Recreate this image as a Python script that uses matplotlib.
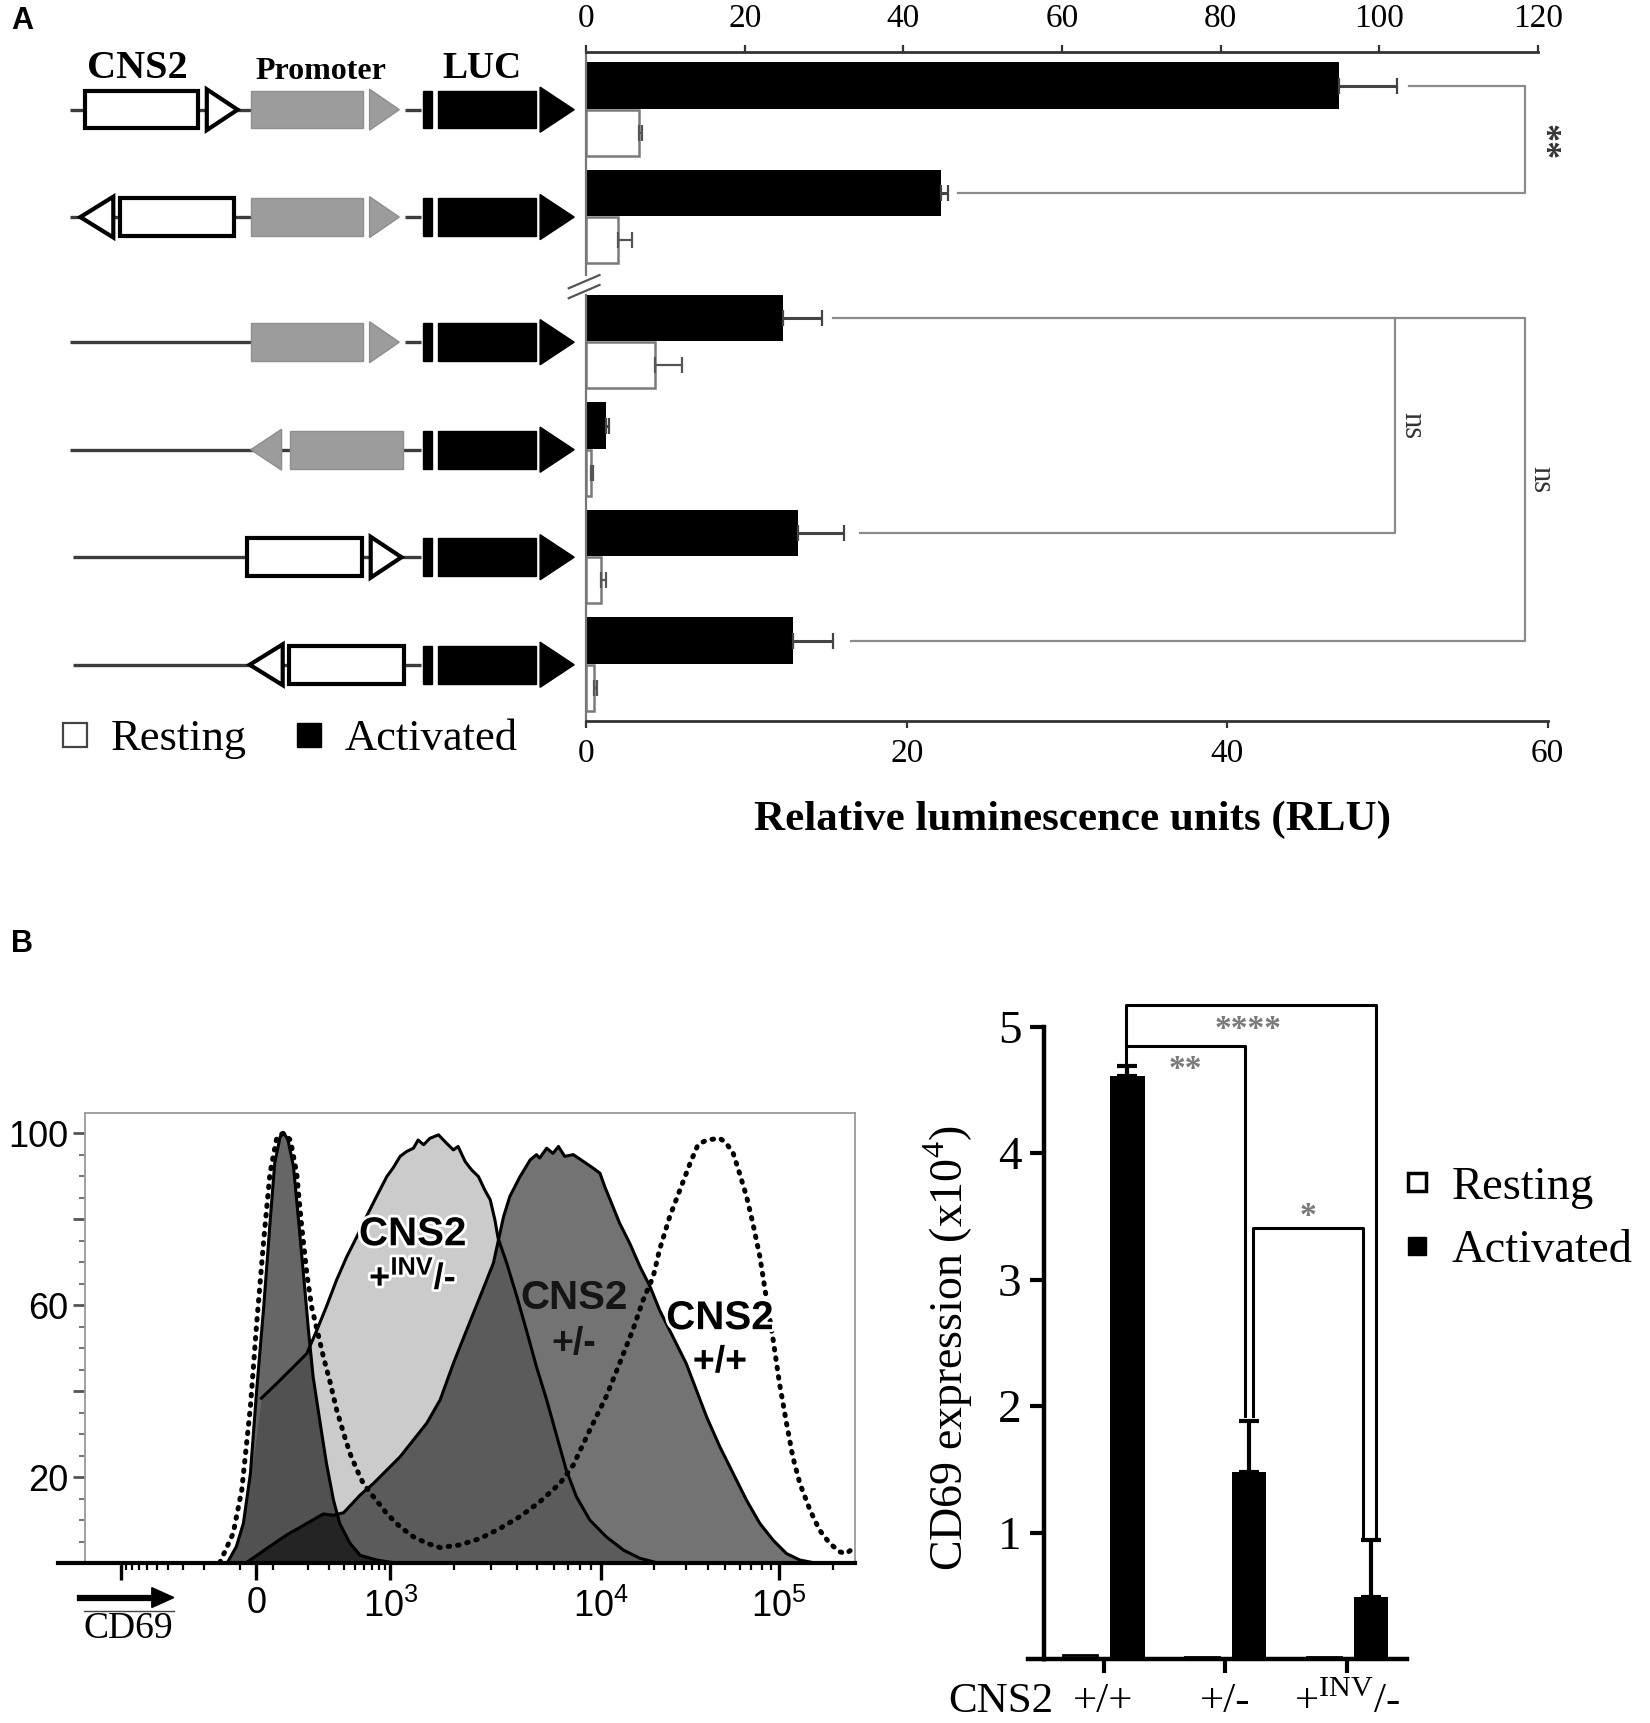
import numpy as np
import matplotlib.pyplot as plt
from matplotlib.patches import Rectangle, Polygon
from matplotlib.lines import Line2D
import matplotlib.patheffects as pe

plt.rcParams['font.family'] = ['Liberation Serif', 'DejaVu Serif']
plt.rcParams['mathtext.fontset'] = 'custom'
plt.rcParams['mathtext.rm'] = 'Liberation Serif'
plt.rcParams['mathtext.sf'] = 'Liberation Sans'
plt.rcParams['mathtext.bf'] = 'Liberation Sans:bold'

# ---------------- panel A: luciferase reporter (RLU), rows top -> bottom
top_act = [94.9, 44.7]
top_act_err = [7.4, 0.9]
top_rest = [6.6, 4.0]
top_rest_err = [0.4, 1.8]
bot_act = [12.3, 1.2, 13.2, 12.9]
bot_act_err = [2.4, 0.2, 2.9, 2.5]
bot_rest = [4.3, 0.3, 0.9, 0.5]
bot_rest_err = [1.7, 0.1, 0.3, 0.15]
top_ticks = [0, 20, 40, 60, 80, 100, 120]
bot_ticks = [0, 20, 40, 60]

# ---------------- panel B: CD69 histograms (x = display channel, y = % of max)
rest_x = [198, 210, 219, 228, 236, 245, 253, 259, 266, 271, 276, 283, 289, 296, 302, 308,
          317, 325, 334, 342, 355, 368, 389, 410]
rest_y = [0, 3.9, 9.3, 20.9, 40.3, 59.7, 79.1, 93.0, 99.2, 100, 98.4, 92.2, 80.6, 66.7, 54.3,
          43.4, 32.6, 23.3, 14.7, 9.3, 4.7, 1.9, 0.8, 0.2]
inv_x = [200, 219, 232, 242, 262, 283, 300, 313, 325, 338, 351, 364, 376, 389, 402, 410, 419,
         427, 436, 442, 449, 457, 468, 478, 487, 493, 502, 510, 519, 527, 534, 540, 544, 555,
         568, 580, 593, 606, 619, 631, 644, 661, 682, 704, 725, 746]
inv_y = [0, 9.3, 24.8, 38.4, 41.9, 45.7, 48.8, 54.3, 59.7, 65.9, 71.3, 76.0, 80.6, 85.3, 89.9,
         91.9, 94.6, 95.7, 96.5, 98.4, 97.3, 98.8, 99.6, 97.7, 96.1, 96.9, 93.4, 91.5, 89.9,
         86.8, 84.5, 79.8, 75.6, 69.8, 62.0, 54.3, 45.7, 38.0, 29.5, 21.7, 15.5, 10.1, 6.2,
         3.1, 1.2, 0.2]
het_x = [223, 249, 274, 300, 321, 334, 347, 368, 385, 402, 419, 436, 453, 470, 487, 504, 521,
         538, 551, 559, 572, 585, 593, 597, 606, 614, 621, 629, 640, 653, 665, 674, 680, 687,
         699, 712, 725, 738, 750, 767, 784, 797, 810, 827, 844, 861, 878, 895, 912, 929, 946]
het_y = [0.2, 3.5, 6.6, 9.3, 11.5, 11.2, 11.8, 15.9, 18.6, 21.7, 24.8, 28.7, 32.6, 38.0, 46.5,
         54.3, 62.0, 69.8, 80.6, 85.3, 89.9, 93.8, 95.0, 94.2, 96.5, 95.3, 96.9, 94.6, 95.0,
         93.4, 91.9, 90.7, 87.6, 84.5, 79.1, 74.4, 69.0, 64.3, 58.9, 52.7, 46.5, 40.3, 34.1,
         27.1, 20.9, 14.7, 9.3, 5.4, 2.3, 0.8, 0.2]
wt_x = [189, 206, 217, 228, 236, 245, 253, 262, 270, 279, 287, 293, 300, 306, 313, 321, 330,
        338, 347, 355, 364, 372, 385, 402, 419, 436, 453, 470, 495, 521, 546, 572, 597, 623,
        640, 661, 682, 699, 716, 729, 742, 750, 763, 776, 789, 799, 810, 827, 835, 844, 852,
        861, 869, 878, 886, 895, 903, 912, 920, 929, 942, 954, 967, 980, 988, 997]
wt_y = [0.2, 7.0, 17.1, 36.4, 55.8, 75.2, 90.7, 99.2, 100, 98.4, 90.7, 79.1, 67.4, 59.7, 54.3,
        48.1, 41.9, 35.7, 30.2, 25.6, 21.7, 18.6, 15.5, 11.6, 8.5, 6.2, 4.7, 3.7, 4.3, 5.8,
        8.1, 10.9, 14.3, 18.6, 22.9, 31.0, 38.8, 46.5, 54.3, 61.2, 66.7, 72.9, 80.6, 86.8,
        93.0, 97.3, 98.4, 98.8, 97.7, 95.3, 90.7, 85.3, 79.1, 71.3, 62.0, 51.9, 41.9, 32.6,
        24.8, 18.6, 12.4, 7.8, 4.7, 2.7, 2.3, 3.5]
hist_tick_pos = [62.6, 235.6, 406.5, 675.0, 902.5]
hist_tick_lab = ['', '$\\mathsf{0}$', '$\\mathsf{10}^{\\mathsf{3}}$',
                 '$\\mathsf{10}^{\\mathsf{4}}$', '$\\mathsf{10}^{\\mathsf{5}}$']
dec_v = [1e2, 1e3, 1e4, 1e5]
dec_p = [256.6, 406.5, 675.0, 902.5]

# ---------------- panel B: CD69 expression bars (x10^4)
genotypes = ['+/+', '+/-', '+${}^{\\mathrm{INV}}$/-']
cd69_rest = [0.03, 0.02, 0.02]
cd69_act = [4.61, 1.48, 0.49]
cd69_act_err = [0.08, 0.40, 0.45]

W, H = 1500.0, 1566.0
fig = plt.figure(figsize=(16.5, 17.23), dpi=100)


def place(x0, y0, x1, y1):
    return fig.add_axes([x0 / W, 1 - y1 / H, (x1 - x0) / W, (y1 - y0) / H])


def ftext(x, y, s, **kw):
    return fig.text(x / W, 1 - y / H, s, **kw)


# ======================= panel A bars
axT = place(533, 47, 1398, 250)
axB = place(533, 268, 1407, 655)


def rlu_bars(ax, act, act_err, rest, rest_err):
    r = np.arange(len(act))
    z = np.zeros(len(act))
    ax.barh(r - 0.225, act, 0.43, color='black', xerr=[z, act_err],
            error_kw=dict(ecolor='#444444', elinewidth=2.2, capsize=6, capthick=1.6))
    ax.barh(r + 0.215, rest, 0.43, color='white', edgecolor='#7a7a7a', lw=1.8,
            xerr=[z, rest_err],
            error_kw=dict(ecolor='#555555', elinewidth=1.6, capsize=6, capthick=1.6))


rlu_bars(axT, top_act, top_act_err, top_rest, top_rest_err)
rlu_bars(axB, bot_act, bot_act_err, bot_rest, bot_rest_err)

axT.set_xlim(0, 120)
axT.set_ylim(1.54, -0.54)
axB.set_xlim(0, 60)
axB.set_ylim(3.52, -0.44)
for ax in (axT, axB):
    ax.spines['right'].set_visible(False)
    ax.spines['left'].set_color('#777777')
    ax.spines['left'].set_linewidth(1.6)
    ax.set_yticks([])
axT.spines['bottom'].set_visible(False)
axT.spines['top'].set_linewidth(2)
axT.spines['top'].set_color('#333333')
axT.xaxis.tick_top()
axT.set_xticks(top_ticks)
axT.tick_params(axis='x', length=5, width=1.6, pad=8, labelsize=24, color='#333333')
axB.spines['top'].set_visible(False)
axB.spines['bottom'].set_linewidth(2)
axB.spines['bottom'].set_color('#333333')
axB.set_xticks(bot_ticks)
axB.tick_params(axis='x', length=5, width=1.6, pad=8, labelsize=24, color='#333333')

gray = '#8a8a8a'
# ** bracket (rows 1-2, top scale)
axT.plot([103.7, 118.4, 118.4, 46.9], [-0.225, -0.225, 0.775, 0.775], color=gray, lw=1.6)
axT.text(120.6, 0.3, '**', rotation=-90, fontsize=26, fontweight='bold',
         ha='center', va='center', color='#333333')
# ns brackets (lower rows, bottom scale)
axB.plot([15.4, 58.6, 58.6, 16.5], [-0.225, -0.225, 2.775, 2.775], color=gray, lw=1.6)
axB.plot([17.1, 50.5, 50.5], [1.775, 1.775, -0.225], color=gray, lw=1.6)
axB.text(51.5, 0.775, 'ns', rotation=-90, fontsize=22, ha='center', va='center', color='#333333')
axB.text(59.6, 1.275, 'ns', rotation=-90, fontsize=22, ha='center', va='center', color='#333333')

# axis break marks
for dy in (0, 9):
    fig.add_artist(Line2D([517 / W, 545 / W], [1 - (262 + dy) / H, 1 - (250 + dy) / H],
                          color='#555555', lw=1.6))

# ======================= construct diagrams
dT = place(0, 47, 533, 250)
dB = place(0, 268, 533, 655)
dT.set_ylim(1.54, -0.54)
dB.set_ylim(3.52, -0.44)
for ax in (dT, dB):
    ax.set_xlim(0, 533)
    ax.axis('off')

WHITE = ('white', 'black')
GRAY = ('#9c9c9c', '#8e8e8e')
BLACK = ('black', 'black')


def draw_construct(ax, yc, parts):
    for p in parts:
        kind, x0, x1 = p[0], p[1], p[2]
        if kind == 'line':
            ax.plot([x0, x1], [yc, yc], color='#3c3c3c', lw=2.4, solid_capstyle='butt',
                    zorder=1)
            continue
        fc, ec = p[3]
        lw = 3 if fc == 'white' else 1
        if kind == 'box':
            ax.add_patch(Rectangle((x0, yc - 0.175), x1 - x0, 0.35, fc=fc, ec=ec, lw=lw,
                                   joinstyle='miter', zorder=3))
        else:
            h = 0.21 if fc == 'black' else 0.19
            base, tip = (x0, x1) if p[4] > 0 else (x1, x0)
            ax.add_patch(Polygon([(base, yc - h), (base, yc + h), (tip, yc)], closed=True,
                                 fc=fc, ec=ec, lw=lw, joinstyle='miter', zorder=3))


luc = [('box', 385, 393, BLACK), ('box', 398, 487, BLACK), ('tri', 491, 522, BLACK, 1)]
promo_fwd = [('box', 228, 330, GRAY), ('tri', 336, 363, GRAY, 1), ('line', 368, 383)]
constructs_top = [
    [('line', 64, 228), ('box', 77, 180, WHITE), ('tri', 188, 216, WHITE, 1)] + promo_fwd + luc,
    [('line', 64, 228), ('tri', 73, 103, WHITE, -1), ('box', 109, 213, WHITE)] + promo_fwd + luc,
]
constructs_bot = [
    [('line', 64, 228)] + promo_fwd + luc,
    [('line', 64, 383), ('tri', 228, 256, GRAY, -1), ('box', 264, 366, GRAY)] + luc,
    [('line', 66, 383), ('box', 225, 329, WHITE), ('tri', 337, 365, WHITE, 1)] + luc,
    [('line', 66, 383), ('tri', 227, 257, WHITE, -1), ('box', 263, 367, WHITE)] + luc,
]
for i, parts in enumerate(constructs_top):
    draw_construct(dT, i, parts)
for i, parts in enumerate(constructs_bot):
    draw_construct(dB, i, parts)

ftext(125, 62, 'CNS2', fontsize=29, fontweight='bold', ha='center', va='center')
ftext(292, 65, 'Promoter', fontsize=23, fontweight='bold', ha='center', va='center')
ftext(438, 62, 'LUC', fontsize=27, fontweight='bold', ha='center', va='center')
ftext(975, 745, 'Relative luminescence units (RLU)', fontsize=31, fontweight='bold',
      ha='center', va='center')

legA = [Line2D([], [], marker='s', ls='none', ms=17, mfc='white', mec='#444444', mew=1.6),
        Line2D([], [], marker='s', ls='none', ms=17, mfc='black', mec='black')]
fig.legend(legA, ['Resting', 'Activated'], loc='center left', ncol=2,
           bbox_to_anchor=(32 / W, 1 - 672 / H), frameon=False, fontsize=32,
           handletextpad=0.3, columnspacing=0.9, handlelength=1.0, borderaxespad=0)

ftext(10, 19, 'A', fontsize=22, fontweight='bold', family='Liberation Sans', va='center')
ftext(10, 858, 'B', fontsize=22, fontweight='bold', family='Liberation Sans', va='center')

# ======================= panel B histogram
axH = place(77.3, 1011.5, 777, 1421)
axH.fill_between(inv_x, inv_y, color='#cbcbcb', lw=0, zorder=1)
axH.fill_between(het_x, het_y, color='black', alpha=0.55, lw=0, zorder=2)
axH.fill_between(rest_x, rest_y, color='black', alpha=0.6, lw=0, zorder=3)
axH.plot(inv_x[3:], inv_y[3:], color='black', lw=2.2, zorder=4)
axH.plot(het_x, het_y, color='black', lw=2.2, zorder=5)
axH.plot(rest_x, rest_y, color='black', lw=2.2, zorder=6)
axH.plot(wt_x, wt_y, color='black', lw=3.6, ls=(0, (0.3, 1.6)), dash_capstyle='round', zorder=7)

axH.set_xlim(17, 999)
axH.set_ylim(0, 104.7)
for s in ('top', 'right', 'left'):
    axH.spines[s].set_color('#9a9a9a')
    axH.spines[s].set_linewidth(1.3)
axH.spines['bottom'].set_visible(False)
axH.plot([-17, 999], [0, 0], color='black', lw=3, clip_on=False, zorder=8)
axH.set_yticks([20, 40, 60, 80, 100])
axH.set_yticklabels(['20', '', '60', '', '100'], family='Liberation Sans', fontsize=26)
axH.set_yticks(np.arange(5, 105, 5), minor=True)
axH.tick_params(axis='y', which='major', length=9, width=2, color='#555555', pad=3)
axH.tick_params(axis='y', which='minor', length=4, width=1.5, color='#777777')


def chan(v):
    if v < 0:
        return np.interp(np.log10(-v), [2, 3], [214.6, 62.6])
    lv = np.log10(v)
    if lv > 5:
        return dec_p[-1] + (dec_p[-1] - dec_p[-2]) * (lv - 5)
    return np.interp(lv, np.log10(dec_v), dec_p)


minor = [chan(m * 10.0 ** k) for k in (2, 3, 4) for m in range(2, 10)]
minor += [chan(2e5), chan(1e2), chan(-1e2)] + [chan(-m * 100.0) for m in range(2, 10)]
axH.set_xticks(hist_tick_pos)
axH.set_xticklabels(hist_tick_lab, fontsize=26)
axH.set_xticks(minor, minor=True)
axH.tick_params(axis='x', which='major', length=12, width=2.4, pad=6)
axH.tick_params(axis='x', which='minor', length=5, width=1.6)

halo = [pe.Stroke(linewidth=4, foreground='white'), pe.Normal()]
lab_kw = dict(family='Liberation Sans', fontweight='bold', ha='center', va='center', zorder=9)
axH.text(435, 76.5, 'CNS2', fontsize=29, path_effects=halo, **lab_kw)
axH.text(435, 66.2, '+${}^{\\mathbf{INV}}$/-', fontsize=26, path_effects=halo, **lab_kw)
axH.text(641, 61.6, 'CNS2', fontsize=29, color='#151515', **lab_kw)
axH.text(641, 50.9, '+/-', fontsize=27, color='#151515', **lab_kw)
axH.text(827, 57.0, 'CNS2', fontsize=29, path_effects=halo, **lab_kw)
axH.text(827, 46.8, '+/+', fontsize=27, path_effects=halo, **lab_kw)

fig.add_artist(Line2D([73 / W, 140 / W], [1 - 1452 / H] * 2, color='black', lw=4.5))
fig.add_artist(Polygon([(138 / W, 1 - 1443 / H), (138 / W, 1 - 1461 / H), (158 / W, 1 - 1452 / H)],
                       closed=True, fc='black', ec='black', transform=fig.transFigure))
fig.add_artist(Line2D([76 / W, 158 / W], [1 - 1464 / H] * 2, color='#444444', lw=1))
ftext(117, 1480, 'CD69', fontsize=27, ha='center', va='center')

# ======================= panel B bars
axC = place(949, 933, 1279, 1508)
g = np.arange(len(genotypes))
z = np.zeros(len(g))
axC.bar(g - 0.19, cd69_rest, 0.28, color='white', edgecolor='black', lw=2)
axC.bar(g + 0.196, cd69_act, 0.28, color='black', yerr=[z, cd69_act_err],
        error_kw=dict(ecolor='black', elinewidth=3, capsize=7, capthick=3))
axC.set_xlim(-0.49, 2.49)
axC.set_ylim(0, 5)
axC.spines['top'].set_visible(False)
axC.spines['right'].set_visible(False)
for s in ('left', 'bottom'):
    axC.spines[s].set_linewidth(3.2)
axC.plot([-0.62, -0.49], [0, 0], color='black', lw=3.2, clip_on=False)
axC.set_yticks([1, 2, 3, 4, 5])
axC.set_yticklabels(['1', '2', '3', '4', '5'], fontsize=34)
axC.set_xticks(g)
axC.set_xticklabels([])
axC.tick_params(axis='both', length=10, width=3, pad=6)
for xi, lab in zip(g, genotypes):
    axC.text(xi, -0.068, lab, transform=axC.get_xaxis_transform(), fontsize=31,
             ha='center', va='center')
axC.text(-0.84, -0.068, 'CNS2', transform=axC.get_xaxis_transform(), fontsize=31,
         ha='center', va='center')

bk = dict(color='black', lw=2.2, clip_on=False)
axC.plot([0.184, 0.184, 2.235, 2.235], [4.72, 5.17, 5.17, 0.96], **bk)
axC.plot([0.184, 1.157, 1.157], [4.85, 4.85, 1.92], **bk)
axC.plot([1.227, 1.227, 2.129, 2.129], [1.92, 3.41, 3.41, 0.96], **bk)
star = dict(color='#7a7a7a', fontsize=24, fontweight='bold', ha='center', va='center')
axC.text(1.19, 4.98, '****', **star)
axC.text(0.675, 4.66, '**', **star)
axC.text(1.68, 3.50, '*', **star)

ftext(862, 1225, 'CD69 expression (x10${}^{4}$)', rotation=90, fontsize=33,
      ha='center', va='center')

legB = [Line2D([], [], marker='s', ls='none', ms=13, mfc='white', mec='black', mew=2.5),
        Line2D([], [], marker='s', ls='none', ms=13, mfc='black', mec='black')]
fig.legend(legB, ['Resting', 'Activated'], loc='center left',
           bbox_to_anchor=(1252 / W, 1 - 1108 / H), frameon=False, fontsize=33.5,
           handletextpad=0.3, labelspacing=0.45, handlelength=0.9, borderaxespad=0)

fig.savefig('out.png', dpi=100, facecolor='white')
